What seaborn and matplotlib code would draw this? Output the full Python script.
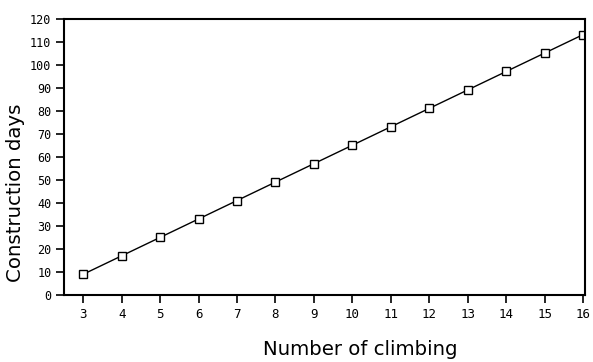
import matplotlib
matplotlib.use("Agg")
import matplotlib.pyplot as plt
import seaborn as sns
import pandas as pd

climbs = [3, 4, 5, 6, 7, 8, 9, 10, 11, 12, 13, 14, 15, 16]
days = [9, 17, 25, 33, 41, 49, 57, 65, 73, 81, 89, 97, 105, 113]
y_ticks = [0, 10, 20, 30, 40, 50, 60, 70, 80, 90, 100, 110, 120]
x_ticks = climbs

sns.set_style("ticks")
plt.rcParams['font.family'] = ['DejaVu Sans']
plt.rcParams['text.color'] = 'black'
plt.rcParams['axes.labelcolor'] = 'black'
plt.rcParams['xtick.color'] = 'black'
plt.rcParams['ytick.color'] = 'black'

df = pd.DataFrame({"climbs": climbs, "days": days})

fig = plt.figure(figsize=(5.93, 3.62), dpi=100)
ax = fig.add_axes([64/593, 1 - 295/362, (585-64)/593, (295-18.5)/362])

sns.lineplot(data=df, x="climbs", y="days", ax=ax, color="black", linewidth=1.0,
             marker="s", markersize=6, markerfacecolor="white",
             markeredgecolor="black", markeredgewidth=1.0)

ax.set_xlim(2.5, 16.05)
ax.set_ylim(0, 120)
ax.set_xticks(x_ticks)
ax.set_yticks(y_ticks)
ax.set_xticklabels([str(v) for v in x_ticks], family="DejaVu Sans Mono", fontsize=9)
ax.set_yticklabels([str(v) for v in y_ticks], family="DejaVu Sans Mono", fontsize=8.5)
ax.tick_params(axis="both", direction="out", length=6, width=1.2, color="black",
               labelcolor="black", pad=3)

for s in ax.spines.values():
    s.set_visible(True)
    s.set_linewidth(1.5)
    s.set_color("black")

ax.set_xlabel("Number of climbing", fontsize=14.2, color="black")
ax.set_ylabel("Construction days", fontsize=14.2, color="black")
ax.xaxis.set_label_coords(0.568, -0.163)
ax.yaxis.set_label_coords(-0.075, 0.37)

fig.savefig("out.png", dpi=100)
